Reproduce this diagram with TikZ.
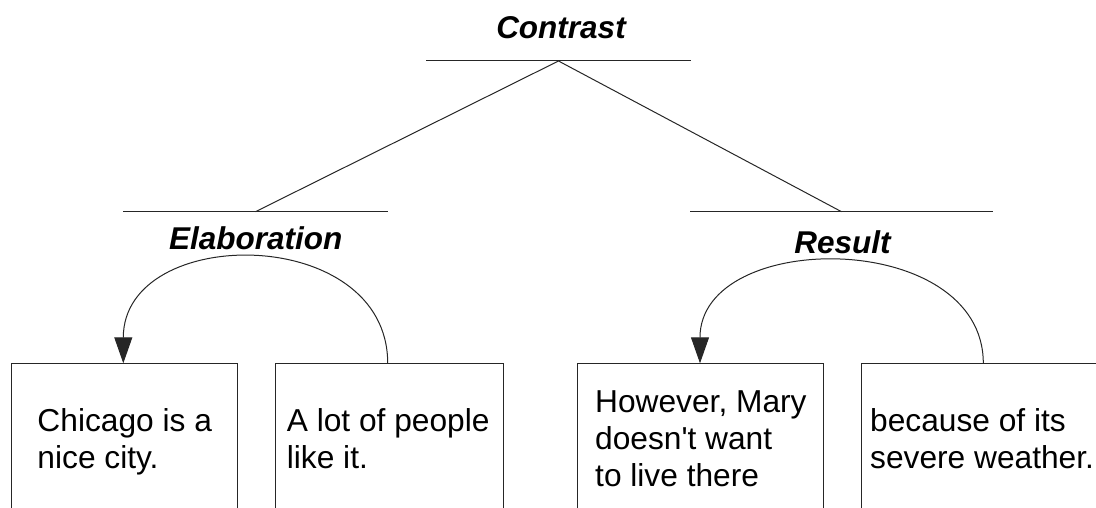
\documentclass[tikz,border=0pt]{standalone}
\usepackage{fontspec}
\setmainfont{Liberation Sans}[Ligatures=TeXOff]
\usetikzlibrary{arrows.meta,calc}
\begin{document}
\begin{tikzpicture}[x=1pt,y=-1pt,
  bar/.style={line width=1pt, draw=black!85},
  relname/.style={inner sep=0pt, anchor=base, font=\fontsize{31.5}{36}\selectfont\bfseries\itshape},
  segbox/.style={draw=black!85, line width=1pt, minimum height=300pt, inner sep=0pt, anchor=north west},
  segtext/.style={inner sep=0pt, anchor=base west, align=left, font=\fontsize{31.7}{37.2}\selectfont},
  link/.style={line width=1pt, draw=black!85, -{Triangle[length=26pt,width=18pt]}}
]
\useasboundingbox (0,0) rectangle (1096,508);
\clip (0,0) rectangle (1096,508);

% tree bars and their junctions
\coordinate (cbar) at (558.5,61);
\coordinate (ebar) at (255.5,211.7);
\coordinate (rbar) at (841.5,211.7);
\draw[bar] ([xshift=-132.5pt]cbar) -- ([xshift=132.5pt]cbar);
\draw[bar] ([xshift=-132.5pt]ebar) -- ([xshift=132.5pt]ebar);
\draw[bar] ([xshift=-151.5pt]rbar) -- ([xshift=151.5pt]rbar);
\draw[bar] (cbar) -- (ebar);
\draw[bar] (cbar) -- (rbar);

% relation names
\node[relname] (contrast) at (561,39) {Contrast};
\node[relname] (elab) at (255.8,250) {Elaboration};
\node[relname] (result) at (842.5,254) {Result};

% text segments (boxes run off the bottom edge)
\node[segbox, minimum width=226.6pt] (b1) at (10.7,363.3) {};
\node[segbox, minimum width=227.5pt] (b2) at (275,363.3) {};
\node[segbox, minimum width=245.4pt] (b3) at (577.3,363.3) {};
\node[segbox, minimum width=300pt] (b4) at (861,363.3) {};

% base anchor sits on the last line
\node[segtext] (t1) at (37.3,468.3) {Chicago is a\\nice city.};
\node[segtext] (t2) at (286.7,468.3) {A lot of people\\like it.};
\node[segtext] (t3) at (595,486.7) {However, Mary\\doesn't want\\to live there};
\node[segtext] (t4) at (870,468.3) {because of its\\severe weather.};

% satellite-to-nucleus arcs
\coordinate (e1s) at ([xshift=112.7pt]b2.north west);
\coordinate (e1t) at ([xshift=112.6pt]b1.north west);
\coordinate (e2s) at ([xshift=122.3pt]b4.north west);
\coordinate (e2t) at ([xshift=122.7pt]b3.north west);
\draw[link] (e1s) .. controls +(0,-139.7) and +(0,-139.7) .. (e1t);
\draw[link] (e2s) .. controls +(0,-134.7) and +(0,-134.7) .. (e2t);
\end{tikzpicture}
\end{document}
